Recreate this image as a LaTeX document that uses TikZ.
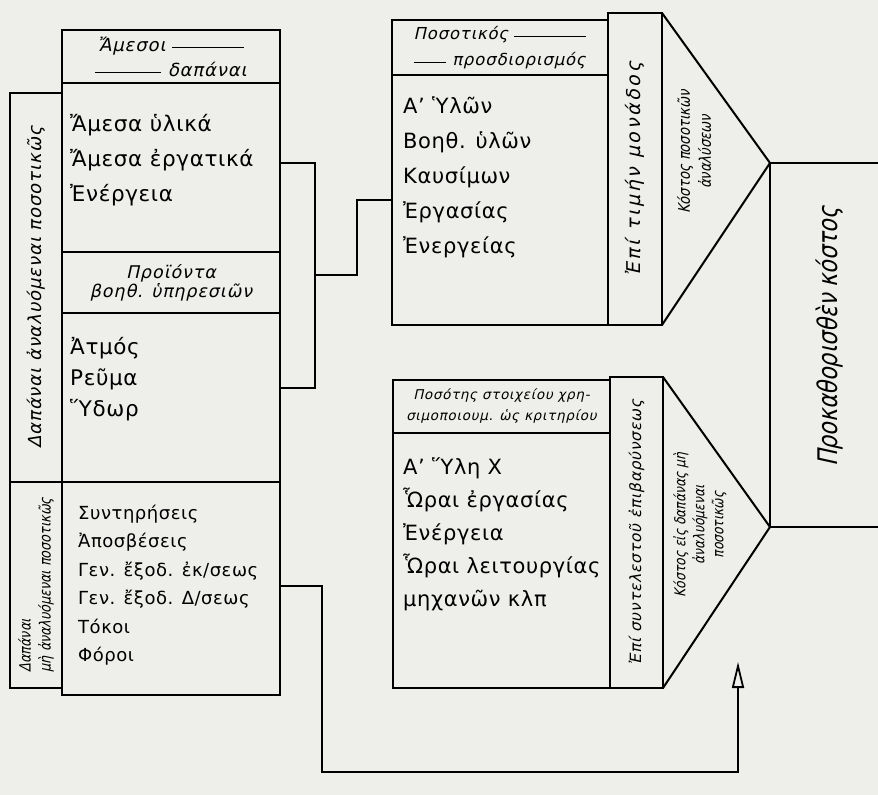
\documentclass[tikz,border=0pt]{standalone}
\usepackage{fontspec}
\setmainfont{DejaVu Sans}[LetterSpace=3]
\newfontfamily\handfont[FakeSlant=0.22, LetterSpace=5]{DejaVu Sans}
\newfontfamily\handnarrow[FakeSlant=0.22, FakeStretch=0.82]{DejaVu Sans}
\usetikzlibrary{calc, arrows.meta, positioning}
\definecolor{paper}{RGB}{238,238,235}
\newcommand{\hdrline}[1]{\rule[0.3ex]{#1}{0.9pt}}

\begin{document}
\begin{tikzpicture}[x=1pt, y=-1pt]
\tikzstyle{box} = [rectangle, draw=black, line width=2pt, inner sep=0pt, outer sep=0pt, anchor=north west]
\tikzstyle{body} = [anchor=west, align=left, inner sep=0pt, font=\fontsize{21.5}{35}\selectfont]
\tikzstyle{hand} = [inner sep=0pt, align=center, font=\handfont\fontsize{18}{25}\selectfont]
\tikzstyle{side} = [inner sep=0pt, align=center, rotate=90, font=\handfont\fontsize{17}{21}\selectfont]
\tikzstyle{link} = [line width=2pt]
\tikzstyle{arrow} = [line width=2pt, -{Triangle[open, length=26pt, width=12pt, line width=1.8pt]}]

% paper
\fill[paper] (0,0) rectangle (878,795);
\useasboundingbox (0,0) rectangle (878,795);

% Left column boxes
\node (hdrA) [box, minimum width=218, minimum height=53] at (62,30) {};
\node (secA) [box, minimum width=218, minimum height=169] at (62,83) {};
\node (hdrB) [box, minimum width=218, minimum height=61] at (62,252) {};
\node (secB) [box, minimum width=218, minimum height=169] at (62,313) {};
\node (secC) [box, minimum width=218, minimum height=213] at (62,482) {};
\node (stripA) [box, minimum width=52, minimum height=389] at (10,93) {};
\node (stripB) [box, minimum width=52, minimum height=206] at (10,482) {};

% Left column texts
\node (hdrAtxt) [hand] at (hdrA.center) {Ἄμεσοι\ \hdrline{72pt}\\\hdrline{66pt}\ δαπάναι};
\node (txtA) [body] at ($(secA.west)+(8,-7.5)$) {Ἄμεσα ὑλικά\\Ἄμεσα ἐργατικά\\Ἐνέργεια};
\node (hdrBtxt) [hand, font=\handfont\fontsize{17.5}{19}\selectfont] at (hdrB.center) {Προϊόντα\\βοηθ. ὑπηρεσιῶν};
\node (txtB) [body, font=\fontsize{21.5}{31}\selectfont] at ($(secB.west)+(8,-18.5)$) {Ἀτμός\\Ρεῦμα\\Ὕδωρ};
\node (txtC) [body, font=\fontsize{18}{28.5}\selectfont] at ($(secC.west)+(16,-3.5)$) {Συντηρήσεις\\Ἀποσβέσεις\\Γεν. ἔξοδ. ἐκ/σεως\\Γεν. ἔξοδ. Δ/σεως\\Τόκοι\\Φόροι};
\node (stripAtxt) [side, font=\handfont\fontsize{18}{21}\selectfont] at (stripA.center) {Δαπάναι ἀναλυόμεναι ποσοτικῶς};
\node (stripBtxt) [side, align=left, font=\handnarrow\fontsize{15.5}{20}\selectfont] at (stripB.center) {Δαπάναι\\μὴ ἀναλυόμεναι ποσοτικῶς};

% Upper right group
\node (hdrP) [box, minimum width=216, minimum height=55] at (392,20) {};
\node (secP) [box, minimum width=216, minimum height=250] at (392,75) {};
\node (stripP) [box, minimum width=54, minimum height=312] at (608,13) {};
\node (hdrPtxt) [hand, font=\handfont\fontsize{16.5}{26}\selectfont] at (hdrP.center) {Ποσοτικός\ \hdrline{72pt}\\\hdrline{32pt}\ προσδιορισμός};
\node (txtP) [body, font=\fontsize{21}{35}\selectfont] at ($(secP.west)+(11,-23)$) {Α' Ὑλῶν\\Βοηθ. ὑλῶν\\Καυσίμων\\Ἐργασίας\\Ἐνεργείας};
\node (stripPtxt) [side, font=\handfont\addfontfeatures{LetterSpace=14}\fontsize{19}{21}\selectfont] at (stripP.center) {Ἐπί τιμήν μονάδος};

% Lower right group
\node (hdrQ) [box, minimum width=217, minimum height=53] at (393,380) {};
\node (secQ) [box, minimum width=217, minimum height=255] at (393,433) {};
\node (stripQ) [box, minimum width=53, minimum height=311] at (610,377) {};
\node (hdrQtxt) [hand, font=\handfont\fontsize{13.5}{21}\selectfont] at (hdrQ.center) {Ποσότης στοιχείου χρη-\\σιμοποιουμ. ὡς κριτηρίου};
\node (txtQ) [body, font=\fontsize{21}{33}\selectfont] at ($(secQ.west)+(10,-26.5)$) {Α' Ὕλη Χ\\Ὧραι ἐργασίας\\Ἐνέργεια\\Ὧραι λειτουργίας\\μηχανῶν κλπ};
\node (stripQtxt) [side, font=\handfont\fontsize{15.5}{21}\selectfont] at (stripQ.center) {Ἐπί συντελεστοῦ ἐπιβαρύνσεως};

% Final cost box and the two funnels
\node (final) [box, minimum width=140, minimum height=364] at (770,163) {};
\node (finaltxt) [side, font=\handnarrow\fontsize{27}{30}\selectfont] at (830,337) {Προκαθορισθὲν κόστος};
\draw[link, line join=round] (stripP.north east) -- (final.north west) -- (stripP.south east);
\draw[link, line join=round] (stripQ.north east) -- (final.south west) -- (stripQ.south east);
\node (triPtxt) [side, font=\handnarrow\fontsize{16}{21}\selectfont] at (694,152) {Κόστος ποσοτικῶν\\ἀναλύσεων};
\node (triQtxt) [side, font=\handnarrow\fontsize{15}{19}\selectfont] at (700,525) {Κόστος εἰς δαπάνας μὴ\\ἀναλυόμεναι\\ποσοτικῶς};

% Connectors
\draw[link] ([yshift=4.5pt]secA.east) -- ++(35,0) |- ([yshift=10pt]secB.east);
\draw[link] ($([yshift=4.5pt]secA.east)!0.5!([yshift=10pt]secB.east)+(35,0)$) -- ++(42,0) |- (secP.west);
\coordinate (loopTip) at (738,662);
\draw[arrow] ([yshift=3pt]secC.east) -- ++(42,0) |- ($(loopTip)+(0,110)$) -- (loopTip);

\end{tikzpicture}
\end{document}
